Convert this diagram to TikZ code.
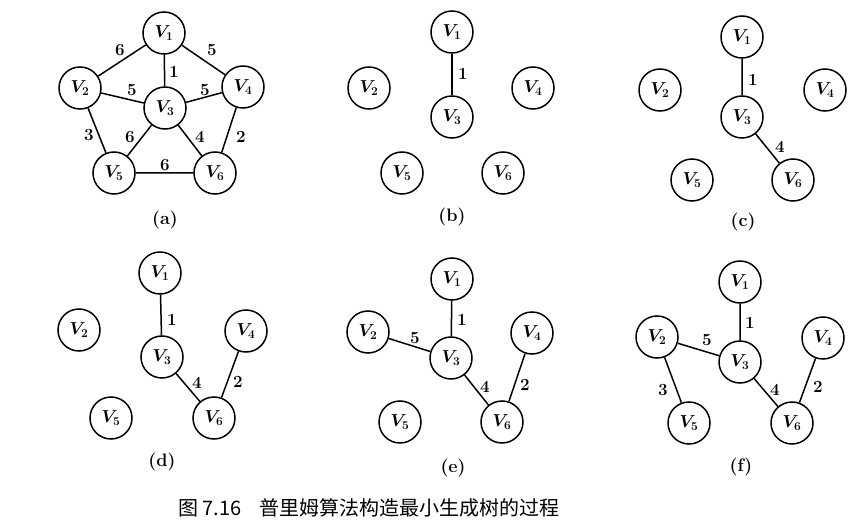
\documentclass[tikz,border=0pt]{standalone}
\usepackage{fontspec}
\newfontfamily\cjkfont{Noto Sans CJK SC}
\tikzset{
  vtx/.style={circle,draw,line width=1.5pt,minimum size=42pt,inner sep=0pt,
    font=\boldmath\fontsize{18}{18}\selectfont},
  wgt/.style={inner sep=0pt,font=\bfseries\fontsize{17}{17}\selectfont},
  sub/.style={inner sep=0pt,font=\bfseries\fontsize{18}{18}\selectfont},
  tree/.style={line width=1.5pt}
}
\begin{document}
\begin{tikzpicture}[x=1pt,y=-1pt]
  \useasboundingbox (0,0) rectangle (860,532);
  % (a): the whole weighted graph
  \foreach \n/\x/\y in {1/164/33,2/80/88,3/165/108,4/243/87,5/114/173,6/215/173}
     \node[vtx] (a\n) at (\x,\y) {$V_\n$};
  \draw[tree] (a1)--(a2) (a1)--(a3) (a1)--(a4) (a2)--(a3) (a3)--(a4)
              (a2)--(a5) (a3)--(a5) (a3)--(a6) (a4)--(a6) (a5)--(a6);
  \node[wgt] (a12w) at (120,50) {6};
  \node[wgt] (a14w) at (212,50) {5};
  \node[wgt] (a13w) at (174,72) {1};
  \node[wgt] (a23w) at (132,90) {5};
  \node[wgt] (a34w) at (205,90) {5};
  \node[wgt] (a25w) at (89,135) {3};
  \node[wgt] (a35w) at (130,137) {6};
  \node[wgt] (a36w) at (200,137) {4};
  \node[wgt] (a46w) at (241,137) {2};
  \node[wgt] (a56w) at (165,165) {6};
  \node[sub] (acap) at (165,220) {(a)};
  % (b): start at V1
  \foreach \n/\x/\y in {1/452/32,2/369/88,3/452/117,4/533/88,5/402/173,6/503/173}
     \node[vtx] (b\n) at (\x,\y) {$V_\n$};
  \draw[tree] (b1)--(b3);
  \node[wgt] (b13w) at (463,74) {1};
  \node[sub] (bcap) at (452,217) {(b)};
  % (c)
  \foreach \n/\x/\y in {1/742/37,2/660/90,3/742/117,4/825/90,5/692/180,6/793/180}
     \node[vtx] (c\n) at (\x,\y) {$V_\n$};
  \draw[tree] (c1)--(c3) (c3)--(c6);
  \node[wgt] (c13w) at (753,80) {1};
  \node[wgt] (c36w) at (780,147) {4};
  \node[sub] (ccap) at (743,222) {(c)};
  % (d)
  \foreach \n/\x/\y in {1/160/273,2/79/330,3/162/357,4/246/331,5/111/418,6/214/418}
     \node[vtx] (d\n) at (\x,\y) {$V_\n$};
  \draw[tree] (d1)--(d3) (d3)--(d6) (d4)--(d6);
  \node[wgt] (d13w) at (172,320) {1};
  \node[wgt] (d36w) at (197,383) {4};
  \node[wgt] (d46w) at (238,382) {2};
  \node[sub] (dcap) at (162,462) {(d)};
  % (e)
  \foreach \n/\x/\y in {1/452/279,2/368/332,3/451/358,4/532/333,5/400/422,6/502/422}
     \node[vtx] (e\n) at (\x,\y) {$V_\n$};
  \draw[tree] (e1)--(e3) (e2)--(e3) (e3)--(e6) (e4)--(e6);
  \node[wgt] (e13w) at (462,320) {1};
  \node[wgt] (e23w) at (415,338) {5};
  \node[wgt] (e36w) at (485,387) {4};
  \node[wgt] (e46w) at (525,385) {2};
  \node[sub] (ecap) at (453,468) {(e)};
  % (f): the finished tree
  \foreach \n/\x/\y in {1/740/282,2/657/337,3/740/362,4/823/338,5/689/423,6/792/423}
     \node[vtx] (f\n) at (\x,\y) {$V_\n$};
  \draw[tree] (f1)--(f3) (f2)--(f3) (f2)--(f5) (f3)--(f6) (f4)--(f6);
  \node[wgt] (f13w) at (750,323) {1};
  \node[wgt] (f23w) at (707,340) {5};
  \node[wgt] (f25w) at (663,390) {3};
  \node[wgt] (f36w) at (775,390) {4};
  \node[wgt] (f46w) at (818,387) {2};
  \node[sub] (fcap) at (741,467) {(f)};
  % figure caption
  \node[anchor=west,inner sep=0pt,font=\cjkfont\fontsize{20}{20}\selectfont] (title)
     at (178,508) {图 7.16\hspace{18pt}普里姆算法构造最小生成树的过程};
\end{tikzpicture}
\end{document}
